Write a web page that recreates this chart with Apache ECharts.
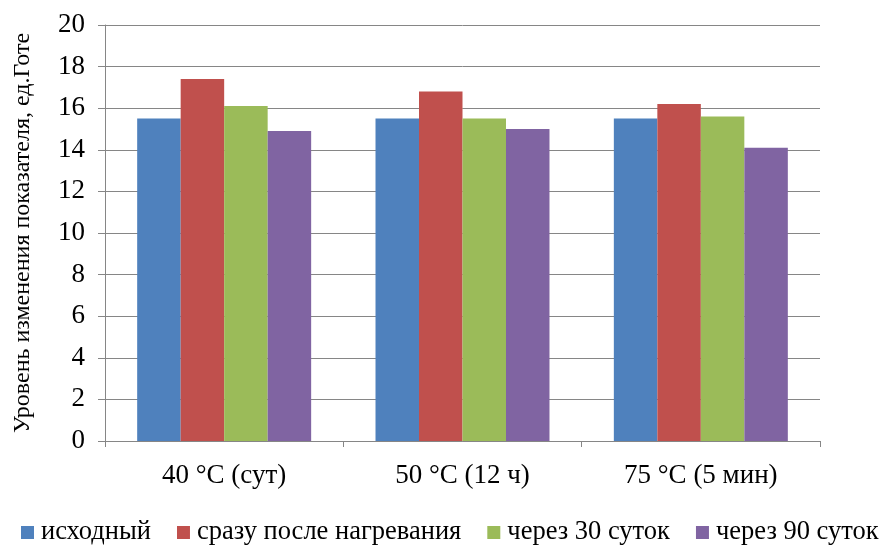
<!DOCTYPE html>
<html>
<head>
<meta charset="utf-8">
<script src="https://cdn.jsdelivr.net/npm/echarts@6/dist/echarts.min.js"></script>
<style>
  html, body { margin: 0; padding: 0; background: #fff; }
  #chart { width: 884px; height: 546px; }
</style>
</head>
<body>
<div id="chart"></div>
<script>
// Temperature regimes (categories)
const categories = ['40 °C (сут)', '50 °C (12 ч)', '75 °C (5 мин)'];
// Series names
const seriesNames = ['исходный', 'сразу после нагревания', 'через 30 суток', 'через 90 суток'];
// Values per series, ед. Готе
const initialVals = [15.5, 15.5, 15.5];
const afterHeatingVals = [17.4, 16.8, 16.2];
const after30Vals = [16.1, 15.5, 15.6];
const after90Vals = [14.9, 15.0, 14.1];
// Y axis range
const yMin = 0, yMax = 20, yStep = 2;

const colors = ['#4F81BD', '#C0504D', '#9BBB59', '#8064A2'];
const seriesData = [initialVals, afterHeatingVals, after30Vals, after90Vals];
const font = 'Liberation Serif';

const chart = echarts.init(document.getElementById('chart'), null, { renderer: 'canvas' });
chart.setOption({
  animation: false,
  backgroundColor: '#ffffff',
  color: colors,
  textStyle: { fontFamily: font },
  grid: { left: 105, right: 64, top: 25, bottom: 105, containLabel: false },
  legend: {
    bottom: 0,
    left: 21,
    padding: 0,
    itemWidth: 13,
    itemHeight: 13,
    itemGap: 26,
    icon: 'rect',
    textStyle: { fontFamily: font, fontSize: 26.5, color: '#000', padding: [0, 0, 0, 2] },
    data: seriesNames
  },
  xAxis: {
    type: 'category',
    data: categories,
    axisLine: { lineStyle: { color: '#868686', width: 1 } },
    axisTick: { show: true, length: 6, alignWithLabel: false, lineStyle: { color: '#868686' } },
    axisLabel: { fontFamily: font, fontSize: 27, color: '#000', margin: 21 }
  },
  yAxis: {
    type: 'value',
    min: yMin,
    max: yMax,
    interval: yStep,
    name: 'Уровень изменения показателя, ед.Готе',
    nameLocation: 'middle',
    nameGap: 70,
    nameTextStyle: { fontFamily: font, fontSize: 24, color: '#000' },
    axisLine: { show: true, lineStyle: { color: '#868686', width: 1 } },
    axisTick: { show: true, length: 7, lineStyle: { color: '#868686' } },
    axisLabel: { fontFamily: font, fontSize: 27, color: '#000', margin: 20 },
    splitLine: { show: true, lineStyle: { color: '#868686', width: 1 } }
  },
  series: seriesNames.map((name, i) => ({
    name,
    type: 'bar',
    data: seriesData[i],
    barGap: '0%',
    barCategoryGap: '27%',
    itemStyle: { color: colors[i] }
  }))
});
</script>
</body>
</html>
